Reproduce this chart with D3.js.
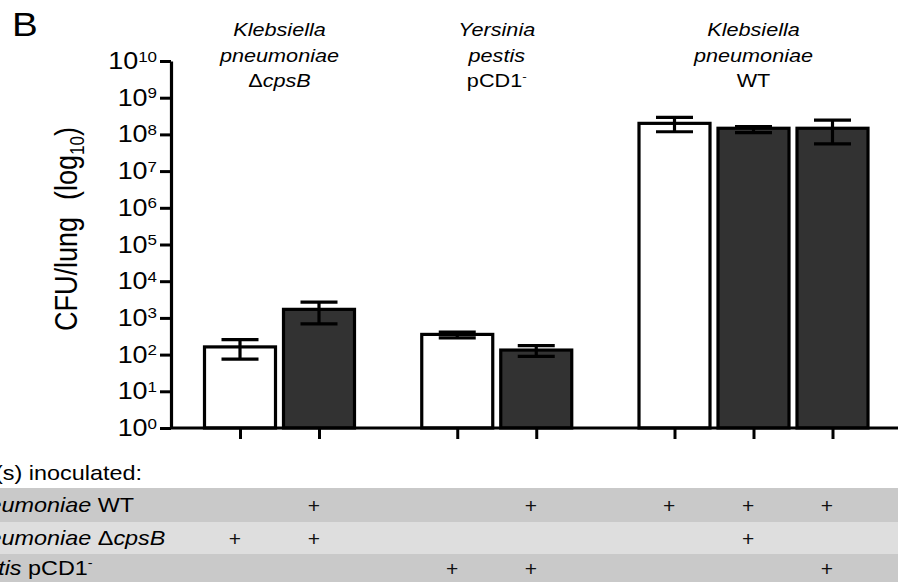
<!DOCTYPE html>
<html>
<head>
<meta charset="utf-8">
<script src="https://cdn.jsdelivr.net/npm/d3@7"></script>
<style>
  html, body { margin: 0; padding: 0; background: #fff; }
  svg { display: block; font-family: "Liberation Sans", Arial, Helvetica, sans-serif; }
</style>
</head>
<body>
<svg id="chart" width="898" height="582"></svg>
<script>
// Lung bacterial burden per inoculation (CFU/lung, log scale)
const barIds     = ["c1", "c2", "c3", "c4", "c5", "c6", "c7"];
const barGroup   = [0, 0, 1, 1, 2, 2, 2];
const barMean    = [162, 1710, 355, 133, 2.0e8, 1.47e8, 1.47e8];
const barUpper   = [256, 2700, 410, 175, 2.92e8, 1.63e8, 2.46e8];
const barLower   = [75, 690, 285, 90, 1.18e8, 1.12e8, 5.5e7];
const coInfected = [false, true, false, true, false, true, true];

// Group headings: [text, italic] segments per line
const groupHeadings = [
  [[["Klebsiella", true]], [["pneumoniae", true]], [["\u0394", false], ["cpsB", true]]],
  [[["Yersinia", true]], [["pestis", true]], [["pCD1", false], ["-", false, "sup"]]],
  [[["Klebsiella", true]], [["pneumoniae", true]], [["WT", false]]]
];

const yExponents = [0, 1, 2, 3, 4, 5, 6, 7, 8, 9, 10];

// Inoculation table
const tableTitle = "Strain(s) inoculated:";
const strainLabels = [
  [["K. pneumoniae ", true], ["WT", false]],
  [["K. pneumoniae ", true], ["\u0394", false], ["cpsB", true]],
  [["Y. pestis ", true], ["pCD1", false], ["-", false, "sup"]]
];
const inoculated = [
  [0, 1, 0, 1, 1, 1, 1],
  [1, 1, 0, 0, 0, 1, 0],
  [0, 0, 1, 1, 0, 0, 1]
];

const svg = d3.select("#chart");
const SX = 1.17;             // horizontal glyph stretch used for all lettering
const ink = "#000";

// Scales
const groupGap = 0.75;
const slot = barIds.map((d, i) => i + groupGap * barGroup[i]);
const x = d3.scaleLinear().domain([0, d3.max(slot)]).range([240, 832.5]);
const xTable = d3.scaleLinear().domain([0, d3.max(slot)]).range([235, 827]);
const y = d3.scaleLog().domain([1, 1e10]).range([428, 61]);
const barW = 71;

function stretchedText(parent, px, py, segments, size, anchor) {
  const t = parent.append("text")
    .attr("transform", `translate(${px},${py}) scale(${SX},1)`)
    .attr("text-anchor", anchor)
    .attr("font-size", size)
    .attr("fill", ink);
  segments.forEach(s => {
    const sp = t.append("tspan").text(s[0])
      .attr("font-style", s[1] ? "italic" : "normal");
    if (s[2] === "sup") sp.attr("font-size", size * 0.62).attr("dy", -size * 0.38);
  });
  return t;
}

// Panel letter
stretchedText(svg, 12, 36, [["B", false]], 33, "start");

// Bars
const bars = svg.append("g");
bars.selectAll("rect").data(barIds).join("rect")
  .attr("x", (d, i) => x(slot[i]) - barW / 2)
  .attr("y", (d, i) => y(barMean[i]))
  .attr("width", barW)
  .attr("height", (d, i) => y(1) - y(barMean[i]))
  .attr("fill", (d, i) => coInfected[i] ? "#323232" : "#fff")
  .attr("stroke", ink)
  .attr("stroke-width", 3.2);

// Error bars
const capHalf = 18.5;
const err = svg.append("g").attr("stroke", ink).attr("stroke-width", 3.2);
barIds.forEach((d, i) => {
  const cx = x(slot[i]);
  err.append("line").attr("x1", cx).attr("x2", cx)
    .attr("y1", y(barUpper[i])).attr("y2", y(barLower[i]));
  [barUpper[i], barLower[i]].forEach(v => {
    err.append("line").attr("x1", cx - capHalf).attr("x2", cx + capHalf)
      .attr("y1", y(v)).attr("y2", y(v));
  });
});

// Y axis
const yAxis = svg.append("g")
  .attr("transform", `translate(171,0)`)
  .call(d3.axisLeft(y)
    .tickValues(yExponents.map(e => Math.pow(10, e)))
    .tickSize(11).tickSizeOuter(0).tickFormat(""));
yAxis.select(".domain").attr("stroke", ink).attr("stroke-width", 3.2);
yAxis.selectAll(".tick line").attr("stroke", ink).attr("stroke-width", 3);

yExponents.forEach(e => {
  const t = svg.append("text")
    .attr("transform", `translate(157,${y(Math.pow(10, e)) + 8}) scale(${SX},1)`)
    .attr("text-anchor", "end")
    .attr("font-size", 23)
    .attr("fill", ink);
  t.append("tspan").text("10");
  t.append("tspan").text(e).attr("font-size", 14.5).attr("dy", -7.5);
});

// X axis baseline and ticks
const xAxis = svg.append("g")
  .attr("transform", `translate(0,428)`)
  .call(d3.axisBottom(x).tickValues(slot).tickSize(11).tickSizeOuter(0).tickFormat(""));
xAxis.select(".domain").remove();
xAxis.selectAll(".tick line").attr("stroke", ink).attr("stroke-width", 3);
svg.append("line")
  .attr("x1", 170).attr("x2", 898).attr("y1", y(1)).attr("y2", y(1))
  .attr("stroke", ink).attr("stroke-width", 3.2);

// Y axis title
const yt = svg.append("text")
  .attr("transform", `translate(77,229) scale(${SX},1) rotate(-90)`)
  .attr("text-anchor", "middle")
  .attr("font-size", 27)
  .attr("fill", ink);
yt.append("tspan").text("CFU/lung");
yt.append("tspan").text("(log").attr("dx", 17);
yt.append("tspan").text("10").attr("font-size", 17).attr("dy", 6);
yt.append("tspan").text(")").attr("dy", -6);

// Group headings
groupHeadings.forEach((lines, g) => {
  const idx = barGroup.map((v, i) => v === g ? i : -1).filter(i => i >= 0);
  const cx = (x(slot[idx[0]]) + x(slot[idx[idx.length - 1]])) / 2;
  lines.forEach((segs, li) => {
    stretchedText(svg, cx, 36 + li * 25.7, segs, 18.5, "middle");
  });
});

// Inoculation table
const rowTop = [488, 522, 554];
const rowBottom = [522, 554, 582];
const rowFill = ["#c9c9c9", "#dedede", "#c9c9c9"];
const table = svg.append("g");
table.selectAll("rect").data(strainLabels).join("rect")
  .attr("x", 0).attr("width", 898)
  .attr("y", (d, i) => rowTop[i])
  .attr("height", (d, i) => rowBottom[i] - rowTop[i])
  .attr("fill", (d, i) => rowFill[i]);

stretchedText(svg, -66, 480, [[tableTitle, false]], 20, "start");

strainLabels.forEach((segs, r) => {
  const midY = (rowTop[r] + rowBottom[r]) / 2;
  stretchedText(svg, -66, midY + 7, segs, 20, "start");
  inoculated[r].forEach((on, c) => {
    if (!on) return;
    svg.append("text")
      .attr("x", xTable(slot[c])).attr("y", midY + 7.5)
      .attr("text-anchor", "middle")
      .attr("font-size", 21)
      .attr("fill", "#111")
      .text("+");
  });
});
</script>
</body>
</html>
